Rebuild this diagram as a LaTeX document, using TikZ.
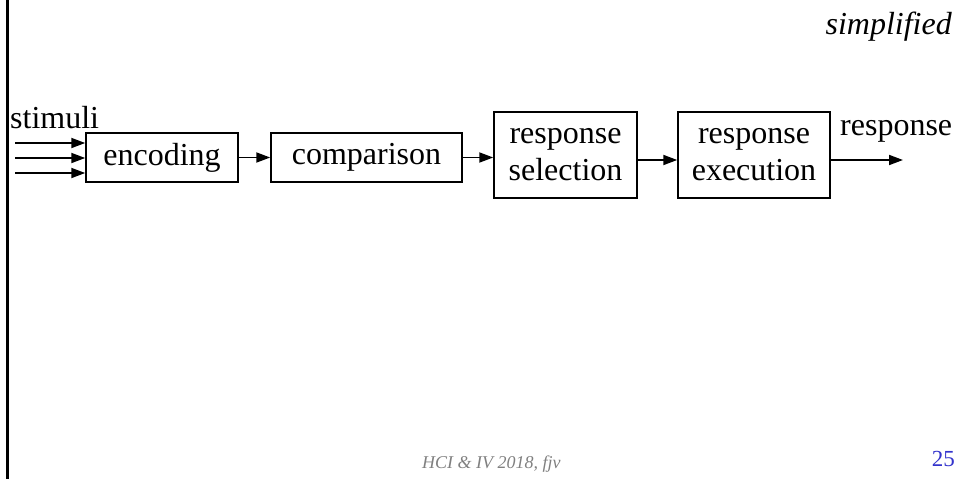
\documentclass[tikz,border=0pt]{standalone}
\usepackage{fontspec}
\setmainfont{Liberation Serif}
\usepackage{xcolor}
\usetikzlibrary{arrows.meta, positioning}

\definecolor{pagenum}{RGB}{51,51,204}

\begin{document}
\begin{tikzpicture}[
      x=1pt, y=-1pt,
      base/.style={draw, line width=1.5pt, align=center, inner sep=2pt, font=\fontsize{32}{37}\selectfont},
      stage/.style={base, minimum height=49pt},
      stage2/.style={base, minimum height=86pt},
      a/.style={-{Triangle[length=14pt,width=10pt]}, line width=1.8pt},
      lbl/.style={font=\fontsize{32}{37}\selectfont, inner sep=0pt}
    ]
    \useasboundingbox (0,0) rectangle (958,479);

    % ---- left rule ----
    \draw[line width=2.8pt] (7.5,0) -- (7.5,479);

    % ---- stages ----
    \node[stage, minimum width=152pt] (enc)  at (162,157.5)   {encoding};
    \node[stage, minimum width=191pt] (comp) at (366.5,157.5) {comparison};
    \node[stage2, minimum width=143pt] (sel)  at (565.5,155)  {response\\selection};
    \node[stage2, minimum width=152pt] (exec) at (754,155)    {response\\execution};

    % ---- stimuli in ----
    \node[lbl, anchor=base west] (stim) at (10,128) {stimuli};
    \foreach \y [count=\i] in {143,158,173}
      \coordinate (s\i) at (15,\y);
    \foreach \i in {1,2,3}
      \draw[a] (s\i) -- (enc.west |- s\i);

    % ---- chain ----
    \draw[a] (enc.east) -- (comp.west);
    \draw[a] (comp.east) -- (sel.west |- comp.east);
    \draw[a] ([yshift=-5pt]sel.east) -- ([yshift=-5pt]exec.west);

    % ---- response out ----
    \coordinate (out) at (903,160);
    \draw[a] (exec.east |- out) -- (out);
    \node[lbl, anchor=base west] (resp) at (840,135) {response};

    % ---- header and footer ----
    \node[lbl, anchor=base east, font=\fontsize{32}{37}\selectfont\itshape] (tag) at (952,34) {simplified};
    \node[anchor=base west, inner sep=0pt, text=gray, font=\fontsize{18}{21}\selectfont\itshape] (foot) at (422,468) {HCI \& IV 2018, fjv};
    \node[anchor=base east, inner sep=0pt, text=pagenum, font=\fontsize{23}{27}\selectfont] (num) at (955,466) {25};

    \end{tikzpicture}
\end{document}
